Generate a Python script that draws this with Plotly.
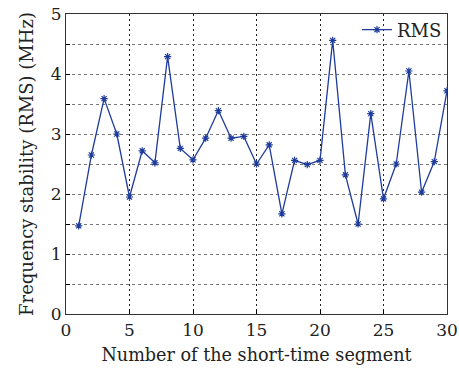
import plotly.graph_objects as go

segments = list(range(1, 31))
rms = [1.47, 2.65, 3.59, 3.00, 1.95, 2.72, 2.52, 4.29, 2.76, 2.57,
       2.93, 3.39, 2.93, 2.96, 2.50, 2.82, 1.67, 2.56, 2.49, 2.56,
       4.56, 2.32, 1.50, 3.34, 1.92, 2.50, 4.05, 2.03, 2.54, 3.72]

x_ticks = [0, 5, 10, 15, 20, 25, 30]
y_ticks = [0, 0.5, 1, 1.5, 2, 2.5, 3, 3.5, 4, 4.5, 5]
y_text = ["0", "", "1", "", "2", "", "3", "", "4", "", "5"]

FONT = "DejaVu Serif"
color = "#1f3c9c"

fig = go.Figure()
fig.add_trace(go.Scatter(
    x=segments, y=rms, mode="lines+markers", name="RMS",
    line=dict(color=color, width=1.3),
    marker=dict(symbol="asterisk-open", size=6, color=color,
                line=dict(color=color, width=1.2)),
))

fig.update_layout(
    width=459, height=373,
    margin=dict(l=66, r=12, t=13, b=59),
    paper_bgcolor="white", plot_bgcolor="white",
    font=dict(family=FONT, size=17, color="#222"),
    showlegend=True,
    legend=dict(x=1.0, y=1.005, xanchor="right", yanchor="top",
                bgcolor="rgba(0,0,0,0)", font=dict(size=18),
                itemwidth=30, tracegroupgap=0),
    xaxis=dict(range=[0, 30], tickvals=x_ticks, ticks="inside", ticklen=4,
               tickcolor="black", showline=True, linecolor="#333", linewidth=1.2,
               mirror=True, showgrid=True, gridcolor="#222", griddash="2px,3px",
               gridwidth=1, zeroline=False, automargin=False,
               title=dict(text="Number of the short-time segment", standoff=10,
                          font=dict(size=17.6)),
               tickfont=dict(size=17)),
    yaxis=dict(range=[0, 5], tickvals=y_ticks, ticktext=y_text, ticks="inside",
               ticklen=4, tickcolor="black", showline=True, linecolor="#333",
               linewidth=1.2, mirror=True, showgrid=True, gridcolor="#777",
               griddash="3px,3px", gridwidth=1, zeroline=False, automargin=False,
               title=dict(text="Frequency stability (RMS) (MHz)", standoff=12,
                          font=dict(size=18)),
               tickfont=dict(size=17)),
)

fig.write_html("out.html")
